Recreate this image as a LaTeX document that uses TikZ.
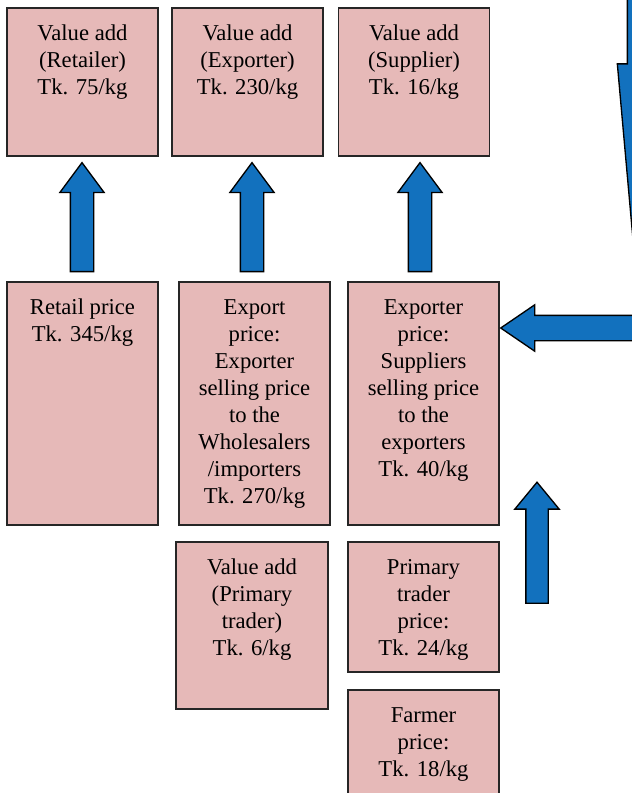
\documentclass[tikz,border=0pt]{standalone}
\usepackage{fontspec}
\setmainfont{Liberation Serif}
\usetikzlibrary{shapes.arrows}
\definecolor{boxpink}{RGB}{230,185,184}
\definecolor{arrblue}{RGB}{18,113,190}
\newcommand\boxtxt[3]{%
  \parbox[c][#1][t]{#2}{\centering\rule{0pt}{24pt}#3}%
}

\begin{document}
\begin{tikzpicture}[x=0.75pt,y=-0.75pt]
  \path[use as bounding box,clip] (0,0) rectangle (632,793);

  \tikzstyle{pbox}=[draw=black!85,fill=boxpink,line width=1pt,inner sep=0pt,
    font=\fontsize{17}{20.3}\selectfont]
  \tikzstyle{blockarr}=[single arrow,draw=black,fill=arrblue,line width=1pt,
    inner xsep=0pt,inner ysep=8.25pt,single arrow head extend=7.875pt,
    single arrow tip angle=73,minimum height=81.75pt]

  % value added boxes
  \node[pbox] (retval) at (82.5,82) {\boxtxt{111pt}{113.25pt}{Value add\\(Retailer)\\Tk. 75/kg}};
  \node[pbox] (expval) at (247.5,82) {\boxtxt{111pt}{113.25pt}{Value add\\(Exporter)\\Tk. 230/kg}};
  \node[pbox] (supval) at (414,82) {\boxtxt{111pt}{113.25pt}{Value add\\(Supplier)\\Tk. 16/kg}};

  % price boxes
  \node[pbox] (retail) at (82.5,403.5) {\boxtxt{182.25pt}{113.25pt}{Retail price\\Tk. 345/kg}};
  \node[pbox] (export) at (254.5,403.5) {\boxtxt{182.25pt}{113.25pt}{Export\\price:\\Exporter\\selling price\\to the\\Wholesalers\\/importers\\Tk. 270/kg}};
  \node[pbox] (supplier) at (423.5,403.5) {\boxtxt{182.25pt}{113.25pt}{Exporter\\price:\\Suppliers\\selling price\\to the\\exporters\\Tk. 40/kg}};

  \node[pbox] (primval) at (252,625.5) {\boxtxt{125.25pt}{114pt}{Value add\\(Primary\\trader)\\Tk. 6/kg}};
  \node[pbox] (primary) at (423.5,607) {\boxtxt{97.5pt}{113.25pt}{Primary\\trader\\price:\\Tk. 24/kg}};
  \node[pbox] (farmer) at (423.5,745) {\boxtxt{82.5pt}{113.25pt}{Farmer\\price:\\Tk. 18/kg}};

  % block arrows
  \foreach \name/\xpos in {arrret/82, arrexp/252, arrsup/420}
    \node[blockarr,rotate=90] (\name) at (\xpos,225) {};

  \node[blockarr,rotate=90,inner ysep=7.875pt,single arrow head extend=8.25pt,
    single arrow tip angle=79,minimum height=90.75pt] (arrprim) at (537,549.5) {};
  \node[blockarr,rotate=180,inner ysep=9pt,single arrow tip angle=68.6,
    minimum height=150pt] (arrin) at (610,328) {};
  \node[blockarr,rotate=-90,inner ysep=16.5pt,single arrow head extend=7.5pt,
    single arrow tip angle=10.2,minimum height=348pt] (arrdown) at (650,71) {};

\end{tikzpicture}
\end{document}
